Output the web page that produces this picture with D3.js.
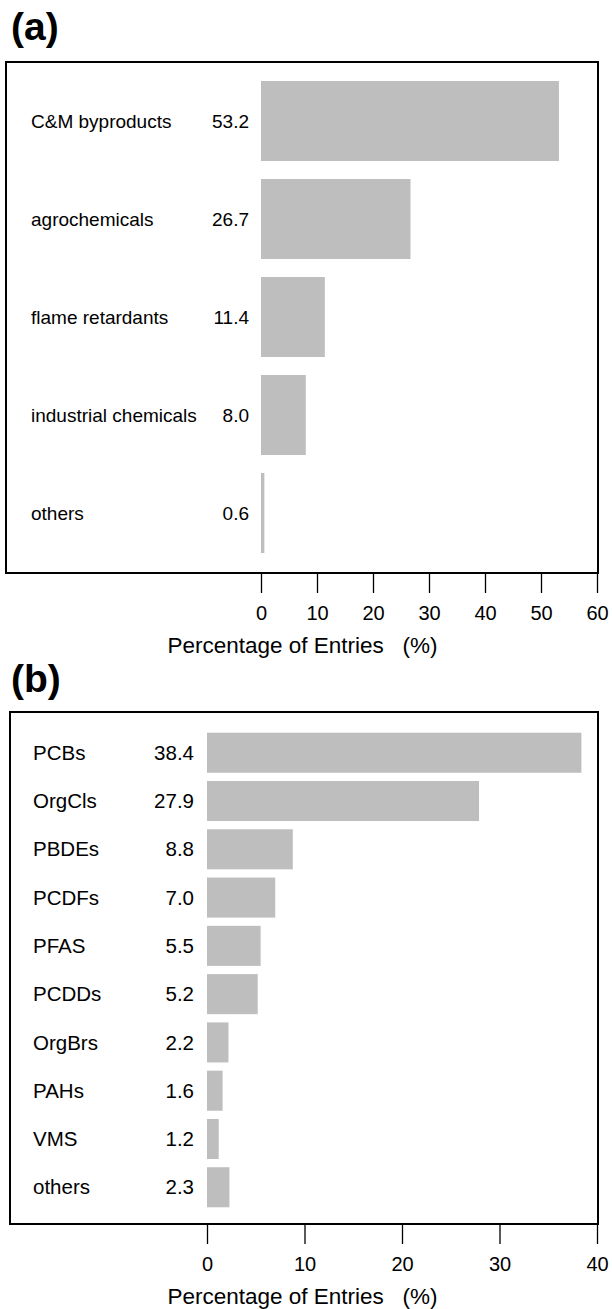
<!DOCTYPE html>
<html><head><meta charset="utf-8">
<script src="https://cdn.jsdelivr.net/npm/d3@7"></script>
<style>body{margin:0;background:#fff}svg{display:block;font-family:"Liberation Sans",Arial,sans-serif}</style>
</head><body>
<script>
const catsA = ["C&M byproducts","agrochemicals","flame retardants","industrial chemicals","others"];
const valsA = [53.2,26.7,11.4,8.0,0.6];
const ticksA = [0,10,20,30,40,50,60];
const catsB = ["PCBs","OrgCls","PBDEs","PCDFs","PFAS","PCDDs","OrgBrs","PAHs","VMS","others"];
const valsB = [38.4,27.9,8.8,7.0,5.5,5.2,2.2,1.6,1.2,2.3];
const ticksB = [0,10,20,30,40];
const axisTitle = "Percentage of Entries   (%)";

const svg = d3.select("body").append("svg").attr("width",612).attr("height",1309);

function panel(o){
  const g = svg.append("g");
  g.append("text").attr("x",o.tagX).attr("y",o.tagY).attr("font-size",39).attr("font-weight","bold").text(o.tag);
  g.append("rect").attr("x",o.box[0]).attr("y",o.box[1]).attr("width",o.box[2]-o.box[0]).attr("height",o.box[3]-o.box[1])
    .attr("fill","none").attr("stroke","#000").attr("stroke-width",2);
  const x = d3.scaleLinear().domain(o.domain).range(o.xr);
  const y = d3.scaleBand().domain(o.cats).range(o.yr).paddingInner(o.pad).paddingOuter(o.pad/2);
  g.selectAll("rect.bar").data(o.vals).join("rect").attr("class","bar")
    .attr("x",x(0)).attr("y",(d,i)=>y(o.cats[i])).attr("width",d=>Math.max(x(d)-x(0),2)).attr("height",y.bandwidth())
    .attr("fill","#bebebe");
  g.selectAll("text.cat").data(o.cats).join("text").attr("class","cat")
    .attr("x",o.catX).attr("y",d=>y(d)+y.bandwidth()/2).attr("dy","0.35em").attr("font-size",o.fs).text(d=>d);
  g.selectAll("text.val").data(o.vals).join("text").attr("class","val")
    .attr("x",o.valX).attr("y",(d,i)=>y(o.cats[i])+y.bandwidth()/2).attr("dy","0.35em").attr("text-anchor","end")
    .attr("font-size",o.fs).text(d=>d.toFixed(1));
  const ax = g.append("g").attr("transform",`translate(0,${o.box[3]})`)
    .call(d3.axisBottom(x).tickValues(o.ticks).tickSize(20).tickPadding(13).tickFormat(d3.format("d")));
  ax.select(".domain").remove();
  ax.selectAll(".tick line").attr("stroke","#000").attr("stroke-width",1.3);
  ax.selectAll(".tick text").attr("font-size",20).attr("font-family","Liberation Sans, Arial, sans-serif").attr("fill","#000");
  g.append("text").attr("x",o.titleX).attr("y",o.titleY).attr("text-anchor","middle").attr("font-size",22.5)
    .attr("xml:space","preserve").style("white-space","pre").text(axisTitle);
}

panel({tag:"(a)",tagX:11,tagY:40,box:[6,62,598,573],domain:[0,60],xr:[261,597],fs:19,
  cats:catsA,vals:valsA,ticks:ticksA,yr:[72,562],pad:0.1837,catX:31,valX:249,titleX:302.5,titleY:653});
panel({tag:"(b)",tagX:11,tagY:692,box:[10,712,598,1224],domain:[0,40],xr:[207,597],fs:20.5,
  cats:catsB,vals:valsB,ticks:ticksB,yr:[728.6,1211.4],pad:0.17,catX:33,valX:194,titleX:302.5,titleY:1304});
</script>
</body></html>
